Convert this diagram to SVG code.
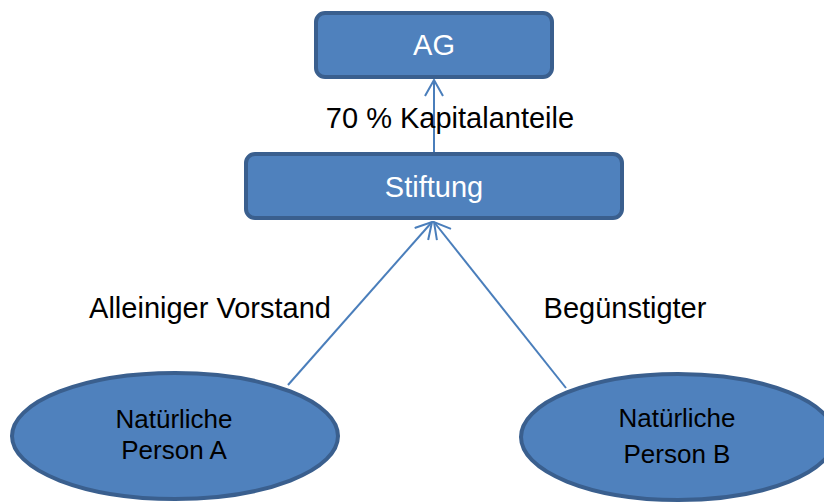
<svg xmlns="http://www.w3.org/2000/svg" width="824" height="502" viewBox="0 0 824 502">
<style>
.box{fill:#4f81bd;stroke:#3a5f8e;stroke-width:4}
.wt{font-family:"Liberation Sans",Arial,sans-serif;fill:#fff;text-anchor:middle;font-size:29px}
.bt{font-family:"Liberation Sans",Arial,sans-serif;fill:#000;text-anchor:middle;font-size:29px}
.et{font-family:"Liberation Sans",Arial,sans-serif;fill:#000;text-anchor:middle;font-size:26px}
.ln{stroke:#4a7ebb;stroke-width:2;fill:none}
</style>
<defs>
<marker id="arr" viewBox="0 0 18 20" refX="17" refY="10" markerWidth="18" markerHeight="20" markerUnits="userSpaceOnUse" orient="auto">
<path d="M1,1 L17,10 L1,19" fill="none" stroke="#4a7ebb" stroke-width="2"/>
</marker>
</defs>
<rect width="824" height="502" fill="#fff"/>
<g id="connectors">
<line class="ln" x1="434" y1="152" x2="434" y2="80" marker-end="url(#arr)"/>
<line class="ln" x1="288" y1="385" x2="432" y2="222" marker-end="url(#arr)"/>
<line class="ln" x1="566" y1="388" x2="434" y2="222" marker-end="url(#arr)"/>
</g>
<g id="ag">
<rect class="box" x="316" y="13" width="236" height="64" rx="9"/>
<text class="wt" x="434" y="55">AG</text>
</g>
<g id="label-kapital">
<text class="bt" x="450" y="128">70 % Kapitalanteile</text>
</g>
<g id="stiftung">
<rect class="box" x="246" y="154" width="376" height="64" rx="9"/>
<text class="wt" x="434" y="197">Stiftung</text>
</g>
<g id="label-vorstand">
<text class="bt" x="210" y="318">Alleiniger Vorstand</text>
</g>
<g id="label-beguenstigter">
<text class="bt" x="625" y="318">Begünstigter</text>
</g>
<g id="person-a">
<ellipse class="box" cx="175" cy="436" rx="163" ry="63"/>
<text class="et" x="174" y="428">Natürliche</text>
<text class="et" x="174" y="459">Person A</text>
</g>
<g id="person-b">
<ellipse class="box" cx="678" cy="437" rx="157" ry="63"/>
<text class="et" x="677" y="427">Natürliche</text>
<text class="et" x="677" y="463">Person B</text>
</g>
</svg>
